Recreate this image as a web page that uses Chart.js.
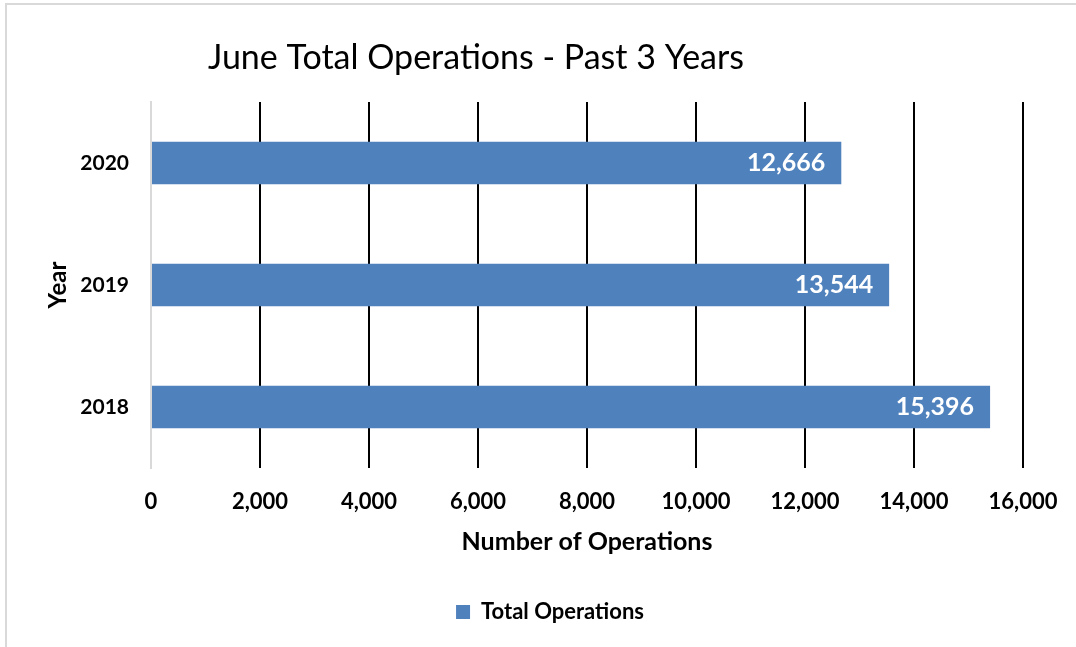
<!DOCTYPE html>
<html>
<head>
<meta charset="utf-8">
<script src="https://cdn.jsdelivr.net/npm/chart.js@4/dist/chart.umd.min.js"></script>
<style>
  html, body { margin: 0; padding: 0; background: #fff; }
  #wrap { width: 1076px; height: 647px; position: relative; }
</style>
</head>
<body>
<div id="wrap"><canvas id="opsChart"></canvas></div>
<script>
const years = ['2020', '2019', '2018'];
const totalOperations = [12666, 13544, 15396];
const xTicks = [0, 2000, 4000, 6000, 8000, 10000, 12000, 14000, 16000];

const FONT = 'Lato, "Open Sans", sans-serif';
const fmt = v => Number(v).toLocaleString('en-US');

// frame + title drawn by hand (title is off-centre in the original)
const framePlugin = {
    id: 'frame',
    beforeDraw(chart) {
        const c = chart.ctx;
        c.save();
        c.fillStyle = '#d9d9d9';
        c.fillRect(5, 3, 2, chart.height - 3);
        c.fillRect(5, 3, chart.width - 5, 2);
        c.fillStyle = '#000';
        c.font = '34px ' + FONT;
        c.textAlign = 'center';
        c.textBaseline = 'middle';
        c.fillText('June Total Operations - Past 3 Years', 476, 58);
        c.restore();
    }
};

const barLabels = {
    id: 'barLabels',
    afterDatasetsDraw(chart) {
        const c = chart.ctx;
        const meta = chart.getDatasetMeta(0);
        c.save();
        c.fillStyle = '#fff';
        c.font = 'bold 25px ' + FONT;
        c.textAlign = 'right';
        c.textBaseline = 'middle';
        meta.data.forEach((bar, i) => {
            c.fillText(fmt(totalOperations[i]), bar.x - 16, bar.y);
        });
        c.restore();
    }
};

const ctx = document.getElementById('opsChart').getContext('2d');
const chart = new Chart(ctx, {
    type: 'bar',
    data: {
        labels: years,
        datasets: [{
            label: 'Total Operations',
            data: totalOperations,
            backgroundColor: '#4f81bd',
            barPercentage: 0.35,
            categoryPercentage: 1
        }]
    },
    options: {
        indexAxis: 'y',
        responsive: true,
        maintainAspectRatio: false,
        animation: false,
        layout: { padding: { top: 102, left: 77, right: 53, bottom: 14 } },
        scales: {
            x: {
                min: 0,
                max: 16000,
                afterBuildTicks: s => { s.ticks = xTicks.map(v => ({ value: v })); },
                afterFit: s => { s.height = 123; s.paddingLeft = 0; s.paddingRight = 0; },
                grid: {
                    color: c => c.tick && c.tick.value === 0 ? '#d9d9d9' : '#000',
                    lineWidth: 2,
                    drawTicks: false
                },
                border: { display: false },
                ticks: {
                    padding: 21,
                    color: '#000',
                    font: { family: FONT, size: 22, weight: 'bold' },
                    callback: v => fmt(v)
                },
                title: {
                    display: true,
                    text: 'Number of Operations',
                    color: '#000',
                    font: { family: FONT, size: 25, weight: 'bold' },
                    padding: { top: 0, bottom: 34 }
                }
            },
            y: {
                afterFit: s => { s.width = 74; },
                grid: { display: false, drawTicks: false },
                border: { display: true, color: '#d9d9d9', width: 2 },
                ticks: {
                    padding: 22,
                    color: '#000',
                    font: { family: FONT, size: 21, weight: 'bold' }
                },
                title: {
                    display: true,
                    text: 'Year',
                    color: '#000',
                    font: { family: FONT, size: 24, weight: 'bold' },
                    padding: { top: -33, bottom: 0 }
                }
            }
        },
        plugins: {
            legend: {
                position: 'bottom',
                labels: {
                    boxWidth: 14,
                    boxHeight: 14,
                    color: '#000',
                    padding: 10,
                    font: { family: FONT, size: 22, weight: 'bold' }
                }
            },
            tooltip: { enabled: false }
        }
    },
    plugins: [framePlugin, barLabels]
});
</script>
</body>
</html>
